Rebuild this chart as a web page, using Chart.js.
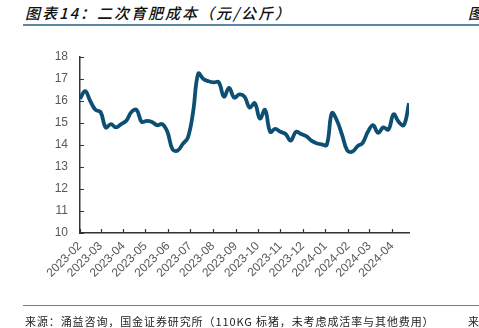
<!DOCTYPE html>
<html>
<head>
<meta charset="utf-8">
<script src="https://cdn.jsdelivr.net/npm/chart.js@4.4.1/dist/chart.umd.min.js"></script>
<style>
  html, body { margin: 0; padding: 0; background: #fff; }
  body { width: 479px; height: 328px; position: relative; overflow: hidden; font-family: "Noto Sans CJK SC", sans-serif; }
  #title { position: absolute; left: 25px; top: 2px; font-size: 15px; font-style: italic; font-weight: 500; color: #111; letter-spacing: 2px; white-space: nowrap; }
  #title2 { position: absolute; left: 468px; top: 2px; font-size: 15px; font-style: italic; font-weight: 500; color: #111; white-space: nowrap; }
  #topline { position: absolute; left: 23px; right: 0; top: 24px; height: 2px; background: #5b87a3; }
  #botline { position: absolute; left: 23px; right: 0; top: 305px; height: 1px; background: #5b87a3; }
  #source { position: absolute; left: 25px; top: 313px; font-size: 11px; color: #222; letter-spacing: 0.9px; white-space: nowrap; }
  #source2 { position: absolute; left: 468px; top: 313px; font-size: 11px; color: #222; white-space: nowrap; }
  #wrap { position: absolute; left: 0; top: 0; width: 479px; height: 328px; }
</style>
</head>
<body>
<div id="title">图表14：二次育肥成本（元/公斤）</div>
<div id="title2">图表15：</div>
<div id="topline"></div>
<div id="wrap"><canvas id="myChart" width="479" height="328"></canvas></div>
<div id="botline"></div>
<div id="source">来源：涌益咨询，国金证券研究所（110KG 标猪，未考虑成活率与其他费用）</div>
<div id="source2">来源：</div>
<script>
// 每周二次育肥成本（元/公斤）
const costs = [
  16.1, 16.45, 16.0, 15.6, 15.5, 14.8, 14.95, 14.8, 14.95, 15.1,
  15.5, 15.6, 15.05, 15.1, 15.05, 14.9, 14.95, 14.6, 13.8, 13.75,
  14.05, 14.35, 15.5, 17.25, 17.0, 16.9, 16.85, 16.85, 16.2, 16.6,
  16.15, 16.3, 16.2, 15.7, 15.9, 15.2, 15.6, 14.6, 14.73, 14.6,
  14.5, 14.2, 14.6, 14.5, 14.4, 14.2, 14.08, 14.03, 14.0, 15.45,
  15.1, 14.45, 13.75, 13.7, 13.95, 14.1, 14.6, 14.9, 14.55, 14.8,
  14.7, 15.4, 15.05, 14.9, 15.9
];

// 月份标签以及距起始日的天数
const monthLabels = ['2023-02', '2023-03', '2023-04', '2023-05', '2023-06', '2023-07', '2023-08',
  '2023-09', '2023-10', '2023-11', '2023-12', '2024-01', '2024-02', '2024-03', '2024-04'];
const monthDays = [0, 28, 59, 89, 120, 150, 181, 212, 242, 273, 303, 334, 365, 394, 425];

const yTicks = [10, 11, 12, 13, 14, 15, 16, 17, 18];

const monthWeeks = monthDays.map(d => d / 7);

// 刻度线画在坐标轴内侧
const innerTicks = {
  id: 'innerTicks',
  afterDraw(chart) {
    const ctx = chart.ctx;
    const x = chart.scales.x;
    const y = chart.scales.y;
    ctx.save();
    ctx.strokeStyle = '#333';
    ctx.lineWidth = 1.2;
    ctx.beginPath();
    yTicks.forEach(v => {
      const py = Math.round(y.getPixelForValue(v)) + 0.5;
      ctx.moveTo(x.left, py);
      ctx.lineTo(x.left + 4, py);
    });
    monthWeeks.forEach(w => {
      const px = Math.round(x.getPixelForValue(w)) + 0.5;
      ctx.moveTo(px, y.bottom);
      ctx.lineTo(px, y.bottom - 4);
    });
    ctx.stroke();
    ctx.restore();
  }
};

const ctx = document.getElementById('myChart').getContext('2d');
window.myChart = new Chart(ctx, {
  type: 'line',
  data: {
    datasets: [{
      label: '二次育肥成本',
      data: costs.map((v, i) => ({ x: i, y: v })),
      borderColor: '#0d4f72',
      borderWidth: 3.8,
      pointRadius: 0,
      tension: 0.4,
      fill: false
    }]
  },
  options: {
    responsive: false,
    animation: false,
    maintainAspectRatio: false,
    layout: { padding: { left: 0, top: 57, right: 70, bottom: 35 } },
    plugins: { legend: { display: false }, tooltip: { enabled: false } },
    scales: {
      x: {
        type: 'linear',
        min: 0,
        max: costs.length - 1,
        afterBuildTicks: s => { s.ticks = monthWeeks.map(v => ({ value: v })); },
        afterFit: s => { s.height = 60; },
        grid: { display: false, drawTicks: false },
        border: { display: true, color: '#333', width: 1.5 },
        ticks: {
          autoSkip: false,
          maxRotation: 45,
          minRotation: 45,
          padding: 6,
          color: '#595959',
          font: { family: 'Liberation Sans', size: 12 },
          callback: (v, i) => monthLabels[i]
        }
      },
      y: {
        min: 10,
        max: 18,
        afterBuildTicks: s => { s.ticks = yTicks.map(v => ({ value: v })); },
        afterFit: s => { s.width = 80; },
        grid: { display: false, drawTicks: false },
        border: { display: true, color: '#333', width: 1.5 },
        ticks: {
          padding: 12,
          color: '#595959',
          font: { family: 'Liberation Sans', size: 12 }
        }
      }
    }
  },
  plugins: [innerTicks]
});
</script>
</body>
</html>
